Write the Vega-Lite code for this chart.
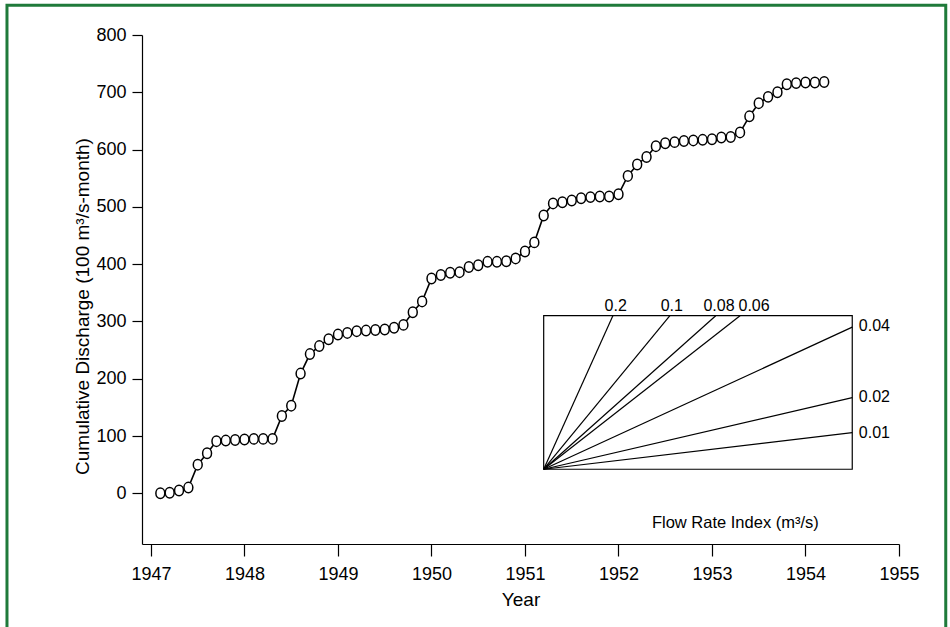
{
  "$schema": "https://vega.github.io/schema/vega-lite/v6.json",
  "width": 757,
  "height": 509,
  "autosize": {"type": "none"},
  "padding": {"left": 142, "top": 35, "right": 51, "bottom": 83},
  "background": "white",
  "config": {
    "view": {"stroke": null},
    "font": "Liberation Sans",
    "axis": {
      "grid": false,
      "domainColor": "black",
      "domainWidth": 1.2,
      "tickColor": "black",
      "tickWidth": 1.2,
      "labelColor": "black",
      "labelFontSize": 18,
      "labelFont": "Liberation Sans",
      "titleFont": "Liberation Sans",
      "titleFontSize": 19,
      "titleFontWeight": "normal",
      "titleColor": "black",
      "labelFlush": false,
      "labelOverlap": false
    }
  },
  "datasets": {
    "discharge": [
      {"year": 1947.1, "cum": 0}, {"year": 1947.2, "cum": 1}, {"year": 1947.3, "cum": 5}, {"year": 1947.4, "cum": 10},
      {"year": 1947.5, "cum": 50}, {"year": 1947.6, "cum": 70}, {"year": 1947.7, "cum": 91}, {"year": 1947.8, "cum": 92},
      {"year": 1947.9, "cum": 93}, {"year": 1948.0, "cum": 94}, {"year": 1948.1, "cum": 95}, {"year": 1948.2, "cum": 95},
      {"year": 1948.3, "cum": 95}, {"year": 1948.4, "cum": 135}, {"year": 1948.5, "cum": 153}, {"year": 1948.6, "cum": 209},
      {"year": 1948.7, "cum": 243}, {"year": 1948.8, "cum": 257}, {"year": 1948.9, "cum": 269}, {"year": 1949.0, "cum": 277},
      {"year": 1949.1, "cum": 280}, {"year": 1949.2, "cum": 283}, {"year": 1949.3, "cum": 284}, {"year": 1949.4, "cum": 285},
      {"year": 1949.5, "cum": 286}, {"year": 1949.6, "cum": 289}, {"year": 1949.7, "cum": 294}, {"year": 1949.8, "cum": 316},
      {"year": 1949.9, "cum": 335}, {"year": 1950.0, "cum": 375}, {"year": 1950.1, "cum": 381}, {"year": 1950.2, "cum": 385},
      {"year": 1950.3, "cum": 386}, {"year": 1950.4, "cum": 395}, {"year": 1950.5, "cum": 398}, {"year": 1950.6, "cum": 404},
      {"year": 1950.7, "cum": 404}, {"year": 1950.8, "cum": 405}, {"year": 1950.9, "cum": 410}, {"year": 1951.0, "cum": 422},
      {"year": 1951.1, "cum": 438}, {"year": 1951.2, "cum": 485}, {"year": 1951.3, "cum": 506}, {"year": 1951.4, "cum": 508},
      {"year": 1951.5, "cum": 511}, {"year": 1951.6, "cum": 515}, {"year": 1951.7, "cum": 517}, {"year": 1951.8, "cum": 518},
      {"year": 1951.9, "cum": 518}, {"year": 1952.0, "cum": 522}, {"year": 1952.1, "cum": 554}, {"year": 1952.2, "cum": 574},
      {"year": 1952.3, "cum": 587}, {"year": 1952.4, "cum": 606}, {"year": 1952.5, "cum": 611}, {"year": 1952.6, "cum": 613},
      {"year": 1952.7, "cum": 615}, {"year": 1952.8, "cum": 616}, {"year": 1952.9, "cum": 617}, {"year": 1953.0, "cum": 618},
      {"year": 1953.1, "cum": 621}, {"year": 1953.2, "cum": 622}, {"year": 1953.3, "cum": 630}, {"year": 1953.4, "cum": 658},
      {"year": 1953.5, "cum": 681}, {"year": 1953.6, "cum": 692}, {"year": 1953.7, "cum": 700}, {"year": 1953.8, "cum": 714},
      {"year": 1953.9, "cum": 716}, {"year": 1954.0, "cum": 717}, {"year": 1954.1, "cum": 717}, {"year": 1954.2, "cum": 718}
    ],
    "rates": [
      {"rate": "0.2", "x0": 1951.2, "y0": 42, "x1": 1951.94, "y1": 310, "lx": 1951.97, "ly": 319, "side": "top"},
      {"rate": "0.1", "x0": 1951.2, "y0": 42, "x1": 1952.55, "y1": 310, "lx": 1952.57, "ly": 319, "side": "top"},
      {"rate": "0.08", "x0": 1951.2, "y0": 42, "x1": 1953.04, "y1": 310, "lx": 1953.075, "ly": 319, "side": "top"},
      {"rate": "0.06", "x0": 1951.2, "y0": 42, "x1": 1953.30, "y1": 310, "lx": 1953.45, "ly": 319, "side": "top"},
      {"rate": "0.04", "x0": 1951.2, "y0": 42, "x1": 1954.5, "y1": 290, "lx": 1954.57, "ly": 292, "side": "right"},
      {"rate": "0.02", "x0": 1951.2, "y0": 42, "x1": 1954.5, "y1": 167, "lx": 1954.57, "ly": 168, "side": "right"},
      {"rate": "0.01", "x0": 1951.2, "y0": 42, "x1": 1954.5, "y1": 106, "lx": 1954.57, "ly": 106, "side": "right"}
    ]
  },
  "layer": [
    {
      "data": {"values": [{}]},
      "mark": {"type": "rect", "fill": "transparent", "stroke": "#1f7a3a", "strokeWidth": 3, "clip": false},
      "encoding": {
        "x": {"datum": 1945.46, "type": "quantitative"},
        "x2": {"datum": 1955.5},
        "y": {"datum": 852, "type": "quantitative"},
        "y2": {"datum": -300}
      }
    },
    {
      "data": {"values": [{}]},
      "mark": {"type": "rect", "fill": "transparent", "stroke": "black", "strokeWidth": 1.2},
      "encoding": {
        "x": {"datum": 1951.2, "type": "quantitative"},
        "x2": {"datum": 1954.5},
        "y": {"datum": 42, "type": "quantitative"},
        "y2": {"datum": 310}
      }
    },
    {
      "data": {"name": "rates"},
      "mark": {"type": "rule", "color": "black", "strokeWidth": 1.2},
      "encoding": {
        "x": {"field": "x0", "type": "quantitative"},
        "y": {"field": "y0", "type": "quantitative"},
        "x2": {"field": "x1"},
        "y2": {"field": "y1"}
      }
    },
    {
      "data": {"name": "rates"},
      "transform": [{"filter": "datum.side == 'top'"}],
      "mark": {"type": "text", "fontSize": 16, "align": "center", "baseline": "alphabetic", "color": "black"},
      "encoding": {
        "x": {"field": "lx", "type": "quantitative"},
        "y": {"field": "ly", "type": "quantitative"},
        "text": {"field": "rate"}
      }
    },
    {
      "data": {"name": "rates"},
      "transform": [{"filter": "datum.side == 'right'"}],
      "mark": {"type": "text", "fontSize": 16, "align": "left", "baseline": "middle", "color": "black"},
      "encoding": {
        "x": {"field": "lx", "type": "quantitative"},
        "y": {"field": "ly", "type": "quantitative"},
        "text": {"field": "rate"}
      }
    },
    {
      "data": {"values": [{}]},
      "mark": {"type": "text", "fontSize": 16.5, "align": "center", "baseline": "middle", "color": "black", "text": "Flow Rate Index  (m³/s)"},
      "encoding": {
        "x": {"datum": 1953.25, "type": "quantitative"},
        "y": {"datum": -52, "type": "quantitative"}
      }
    },
    {
      "data": {"name": "discharge"},
      "mark": {"type": "line", "color": "black", "strokeWidth": 1.6},
      "encoding": {
        "x": {
          "field": "year", "type": "quantitative", "title": "Year",
          "scale": {"domain": [1946.904, 1955], "nice": false, "zero": false},
          "axis": {"values": [1947, 1948, 1949, 1950, 1951, 1952, 1953, 1954, 1955], "format": "d", "tickSize": 12, "labelPadding": 9, "titlePadding": 7}
        },
        "y": {
          "field": "cum", "type": "quantitative", "title": "Cumulative Discharge (100 m³/s-month)",
          "scale": {"domain": [-88.5, 800], "nice": false, "zero": false},
          "axis": {"values": [0, 100, 200, 300, 400, 500, 600, 700, 800], "tickSize": 10, "labelPadding": 6, "titlePadding": 3, "titleY": 271}
        }
      }
    },
    {
      "data": {"name": "discharge"},
      "mark": {"type": "point", "shape": "M -0.85 0 A 0.85 1 0 1 0 0.85 0 A 0.85 1 0 1 0 -0.85 0 Z", "size": 110, "filled": true, "fill": "white", "stroke": "black", "strokeWidth": 1.5, "opacity": 1},
      "encoding": {
        "x": {"field": "year", "type": "quantitative"},
        "y": {"field": "cum", "type": "quantitative"}
      }
    }
  ]
}
